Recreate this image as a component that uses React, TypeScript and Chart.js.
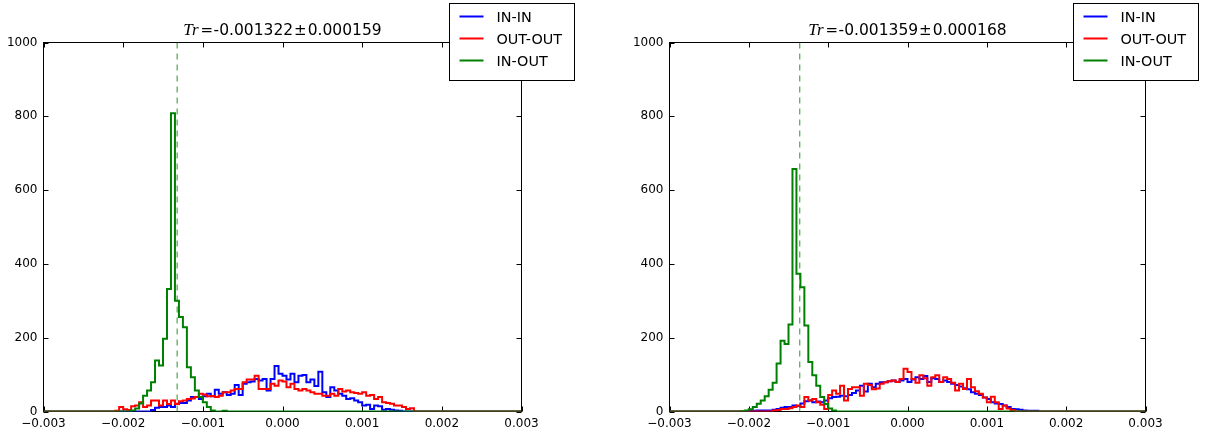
import React, { useEffect, useRef } from "react";
import { Chart, registerables } from "chart.js";

Chart.register(...registerables);

// Histogram bin grid (shared by every series)
const BIN_MIN = -0.003;
const BIN_WIDTH = 0.00005;
const BIN_COUNT = 120;

const xTicks = [-0.003, -0.002, -0.001, 0, 0.001, 0.002, 0.003];
const yTicks = [0, 200, 400, 600, 800, 1000];
const seriesNames = ["IN-IN", "OUT-OUT", "IN-OUT"];
const seriesColors = ["#0000ff", "#ff0000", "#008000"];

// Panel annotations
const leftTr = -0.001322;
const leftTrErr = 0.000159;
const rightTr = -0.001359;
const rightTrErr = 0.000168;

// Left panel counts (first non-empty bin index, then counts)
const leftInInStart = 28;
const leftInIn = [
  4, 10, 12, 12, 16, 12, 21, 23, 23, 30,
  39, 39, 34, 41, 48, 41, 59, 48, 52, 45,
  48, 72, 45, 75, 79, 81, 88, 84, 88, 57,
  88, 123, 102, 97, 87, 102, 79, 97, 99, 79,
  87, 69, 108, 52, 39, 66, 57, 48, 43, 34,
  36, 30, 25, 16, 18, 7, 16, 14, 5, 7,
  5, 3, 2,
];
const leftOutOutStart = 19;
const leftOutOut = [
  2, 12, 6, 4, 14, 16, 25, 12, 16, 30,
  30, 16, 30, 20, 30, 20, 28, 30, 34, 35,
  39, 48, 46, 41, 42, 39, 43, 52, 52, 57,
  61, 61, 79, 87, 87, 97, 61, 61, 61, 75,
  70, 84, 81, 66, 75, 61, 57, 61, 57, 52,
  48, 48, 43, 43, 48, 43, 61, 54, 57, 52,
  50, 48, 52, 43, 45, 34, 39, 25, 23, 21,
  16, 16, 12, 7, 9,
];
const leftInOutStart = 23;
const leftInOut = [
  3, 8, 22, 43, 57, 79, 138, 125, 197, 332,
  808, 300, 256, 228, 120, 93, 57, 39, 25, 12,
  3, 0, 0, 2,
];

// Right panel counts
const rightInInStart = 21;
const rightInIn = [
  2, 2, 3, 3, 3, 3, 5, 7, 10, 12,
  12, 16, 15, 22, 28, 30, 25, 27, 25, 30,
  36, 39, 40, 43, 41, 45, 50, 57, 70, 54,
  75, 66, 75, 79, 79, 82, 84, 80, 84, 88,
  80, 87, 93, 88, 96, 80, 90, 88, 80, 84,
  80, 75, 72, 68, 63, 60, 52, 48, 45, 38,
  34, 25, 22, 20, 16, 12, 7, 6, 5, 3,
  2, 2, 2,
];
const rightOutOutStart = 27;
const rightOutOut = [
  3, 4, 7, 7, 9, 12, 16, 12, 39, 30,
  34, 25, 18, 7, 45, 57, 48, 70, 30, 61,
  66, 66, 43, 75, 72, 60, 62, 75, 79, 82,
  84, 80, 88, 116, 107, 88, 78, 98, 90, 70,
  93, 98, 80, 93, 88, 78, 57, 75, 61, 88,
  66, 55, 48, 38, 25, 40, 25, 7, 16, 8,
  4,
];
const rightInOutStart = 19;
const rightInOut = [
  1, 3, 6, 12, 21, 30, 41, 59, 78, 130,
  192, 183, 236, 657, 373, 337, 233, 134, 98, 70,
  39, 20, 8, 3,
];

const TICK_FONT = { family: "'DejaVu Sans', sans-serif", size: 12 };

function histPoints(start: number, counts: number[]) {
  const full: number[] = new Array(BIN_COUNT).fill(0);
  counts.forEach((c, i) => {
    full[start + i] = c;
  });
  const pts: { x: number; y: number }[] = [];
  for (let k = 0; k < BIN_COUNT; k++) {
    pts.push({ x: BIN_MIN + k * BIN_WIDTH, y: full[k] });
  }
  pts.push({ x: BIN_MIN + BIN_COUNT * BIN_WIDTH, y: full[BIN_COUNT - 1] });
  return pts;
}

function fmtX(v: number) {
  if (Math.abs(v) < 1e-12) return "0.000";
  const s = Math.abs(v).toFixed(3);
  return v < 0 ? "\u2212" + s : s;
}

function fmtNum(v: number) {
  return v.toFixed(6);
}

const framePlugin = {
  id: "frame",
  beforeDatasetsDraw(chart: any) {
    const { ctx, chartArea: a, scales } = chart;
    ctx.save();
    ctx.strokeStyle = "#000";
    ctx.lineWidth = 1;
    ctx.strokeRect(a.left, a.top, a.right - a.left, a.bottom - a.top);
    const tl = 5;
    ctx.beginPath();
    xTicks.forEach((v) => {
      const px = Math.round(scales.x.getPixelForValue(v)) + 0.5;
      ctx.moveTo(px, a.bottom);
      ctx.lineTo(px, a.bottom - tl);
      ctx.moveTo(px, a.top);
      ctx.lineTo(px, a.top + tl);
    });
    yTicks.forEach((v) => {
      const py = Math.round(scales.y.getPixelForValue(v)) + 0.5;
      ctx.moveTo(a.left, py);
      ctx.lineTo(a.left + tl, py);
      ctx.moveTo(a.right, py);
      ctx.lineTo(a.right - tl, py);
    });
    ctx.stroke();
    ctx.restore();
  },
};

const overlayPlugin = {
  id: "overlay",
  afterDraw(chart: any) {
    const { ctx, chartArea: a } = chart;
    const opts = chart.options.plugins.overlay;
    ctx.save();
    // Title
    const parts = [
      { t: "Tr", font: "italic 17px 'Liberation Serif', serif", gap: 2 },
      { t: "=", font: "15px 'DejaVu Sans', sans-serif", gap: 0.5 },
      { t: fmtNum(opts.tr), font: "15.5px 'DejaVu Sans', sans-serif", gap: 1 },
      { t: "\u00b1", font: "15px 'DejaVu Sans', sans-serif", gap: 1 },
      { t: fmtNum(opts.err), font: "15.5px 'DejaVu Sans', sans-serif", gap: 0 },
    ];
    let total = 0;
    const widths = parts.map((p) => {
      ctx.font = p.font;
      const w = ctx.measureText(p.t).width;
      total += w + p.gap;
      return w;
    });
    let x = (a.left + a.right) / 2 - total / 2;
    ctx.fillStyle = "#000";
    ctx.textBaseline = "alphabetic";
    ctx.textAlign = "left";
    parts.forEach((p, i) => {
      ctx.font = p.font;
      ctx.fillText(p.t, x, 35);
      x += widths[i] + p.gap;
    });
    // Legend
    const bx = Math.round(a.right - 72.5) + 0.5;
    const by = 3.5;
    const bw = 125;
    const bh = 77;
    ctx.fillStyle = "#fff";
    ctx.fillRect(bx, by, bw, bh);
    ctx.strokeStyle = "#000";
    ctx.lineWidth = 1;
    ctx.strokeRect(bx, by, bw, bh);
    ctx.font = "14.4px 'DejaVu Sans', sans-serif";
    seriesNames.forEach((name, i) => {
      const ly = 16.5 + i * 22;
      ctx.strokeStyle = seriesColors[i];
      ctx.lineWidth = 2;
      ctx.beginPath();
      ctx.moveTo(bx + 10, ly);
      ctx.lineTo(bx + 34, ly);
      ctx.stroke();
      ctx.fillStyle = "#000";
      ctx.fillText(name, bx + 47, ly + 5.5);
    });
    ctx.restore();
  },
};

function makeChart(
  canvas: HTMLCanvasElement,
  width: number,
  plotLeft: number,
  plotRight: number,
  tr: number,
  err: number,
  inIn: number[],
  inInStart: number,
  outOut: number[],
  outOutStart: number,
  inOut: number[],
  inOutStart: number
) {
  return new Chart(canvas, {
    type: "line",
    data: {
      datasets: [
        {
          label: "Tr",
          data: [
            { x: tr, y: 0 },
            { x: tr, y: 1000 },
          ],
          borderColor: "rgba(0,128,0,0.6)",
          borderWidth: 1.4,
          borderDash: [6, 5],
          pointRadius: 0,
          order: 0,
        },
        {
          label: seriesNames[2],
          data: histPoints(inOutStart, inOut),
          borderColor: seriesColors[2],
          borderWidth: 2,
          stepped: "after",
          pointRadius: 0,
          fill: false,
          order: 1,
        },
        {
          label: seriesNames[1],
          data: histPoints(outOutStart, outOut),
          borderColor: seriesColors[1],
          borderWidth: 2,
          stepped: "after",
          pointRadius: 0,
          fill: false,
          order: 2,
        },
        {
          label: seriesNames[0],
          data: histPoints(inInStart, inIn),
          borderColor: seriesColors[0],
          borderWidth: 2,
          stepped: "after",
          pointRadius: 0,
          fill: false,
          order: 3,
        },
      ] as any,
    },
    options: {
      animation: false,
      responsive: false,
      devicePixelRatio: 1,
      events: [],
      layout: { padding: { top: 42.5, left: 0, right: width - plotRight, bottom: 0 } },
      plugins: {
        legend: { display: false },
        title: { display: false },
        tooltip: { enabled: false },
        overlay: { tr, err },
      } as any,
      scales: {
        x: {
          type: "linear",
          min: -0.003,
          max: 0.003,
          afterBuildTicks: (s: any) => {
            s.ticks = xTicks.map((v) => ({ value: v }));
          },
          afterFit: (s: any) => {
            s.height = 22.5;
          },
          ticks: {
            callback: (v: any) => fmtX(Number(v)),
            font: TICK_FONT,
            color: "#000",
            padding: 5,
            maxRotation: 0,
            autoSkip: false,
          },
          grid: { display: false, drawTicks: false },
          border: { display: false },
        },
        y: {
          type: "linear",
          min: 0,
          max: 1000,
          afterBuildTicks: (s: any) => {
            s.ticks = yTicks.map((v) => ({ value: v }));
          },
          afterFit: (s: any) => {
            s.width = plotLeft;
          },
          ticks: {
            callback: (v: any) => String(Math.round(Number(v))),
            font: TICK_FONT,
            color: "#000",
            padding: 6,
          },
          grid: { display: false, drawTicks: false },
          border: { display: false },
        },
      },
    } as any,
    plugins: [framePlugin, overlayPlugin],
  });
}

export default function App() {
  const leftRef = useRef<HTMLCanvasElement>(null);
  const rightRef = useRef<HTMLCanvasElement>(null);

  useEffect(() => {
    const c1 = makeChart(
      leftRef.current!, 610, 43.5, 521.5, leftTr, leftTrErr,
      leftInIn, leftInInStart, leftOutOut, leftOutOutStart, leftInOut, leftInOutStart
    );
    const c2 = makeChart(
      rightRef.current!, 609, 59.5, 535.5, rightTr, rightTrErr,
      rightInIn, rightInInStart, rightOutOut, rightOutOutStart, rightInOut, rightInOutStart
    );
    return () => {
      c1.destroy();
      c2.destroy();
    };
  }, []);

  return (
    <div style={{ position: "fixed", left: 0, top: 0, width: 1219, height: 434, background: "#fff" }}>
      <canvas
        ref={leftRef}
        width={610}
        height={434}
        style={{ position: "absolute", left: 0, top: 0, width: 610, height: 434 }}
      />
      <canvas
        ref={rightRef}
        width={609}
        height={434}
        style={{ position: "absolute", left: 610, top: 0, width: 609, height: 434 }}
      />
    </div>
  );
}
